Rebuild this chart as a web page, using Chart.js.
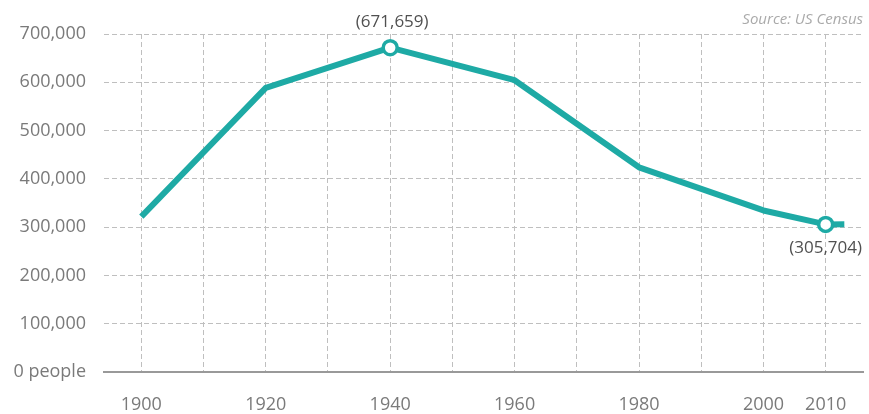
<!DOCTYPE html>
<html>
<head>
<meta charset="utf-8">
<script src="https://cdn.jsdelivr.net/npm/chart.js@4.4.1/dist/chart.umd.min.js"></script>
<style>
  html, body { margin: 0; padding: 0; background: #fff; }
  #wrap { width: 869px; height: 414px; }
</style>
</head>
<body>
<div id="wrap"><canvas id="popChart" width="869" height="414"></canvas></div>
<script>
// census years and population
const years = [1900, 1920, 1940, 1960, 1980, 2000, 2010, 2013];
const population = [321616, 588343, 671659, 604332, 423938, 334563, 305704, 306000];
// points that get a marker and a value label
const markedYears = [1940, 2010];
const gridYears = [1900, 1910, 1920, 1930, 1940, 1950, 1960, 1970, 1980, 1990, 2000, 2010];
const labelYears = [1900, 1920, 1940, 1960, 1980, 2000, 2010];
const yTicks = [0, 100000, 200000, 300000, 400000, 500000, 600000, 700000];

const teal = '#1eaaa5';
const fontFamily = '"Open Sans", sans-serif';

const fmt = v => v.toLocaleString('en-US');

// value labels + source note
const annotations = {
    id: 'annotations',
    afterDatasetsDraw(chart) {
        const ctx = chart.ctx;
        const xs = chart.scales.x, ys = chart.scales.y;
        ctx.save();
        ctx.font = '17px ' + fontFamily;
        ctx.fillStyle = '#505050';
        ctx.textAlign = 'center';
        ctx.textBaseline = 'middle';
        markedYears.forEach((yr, k) => {
            const i = years.indexOf(yr);
            const px = xs.getPixelForValue(yr);
            const py = ys.getPixelForValue(population[i]);
            const dy = k === 0 ? -26 : 24;
            ctx.fillText('(' + fmt(population[i]) + ')', px + (k === 0 ? 2 : 0), py + dy);
        });
        ctx.font = 'italic 15px ' + fontFamily;
        ctx.fillStyle = '#aaa';
        ctx.textAlign = 'right';
        ctx.fillText('Source: US Census', 863, 20);
        ctx.restore();
    }
};

new Chart(document.getElementById('popChart'), {
    type: 'line',
    data: {
        datasets: [{
            data: years.map((y, i) => ({ x: y, y: population[i] })),
            borderColor: teal,
            borderWidth: 6,
            borderJoinStyle: 'round',
            tension: 0,
            pointRadius: c => markedYears.includes(years[c.dataIndex]) ? 7 : 0,
            pointBackgroundColor: '#fff',
            pointBorderColor: teal,
            pointBorderWidth: 3.5
        }]
    },
    options: {
        responsive: false,
        animation: false,
        layout: { padding: { top: 34, right: 6, left: 0, bottom: 0 } },
        plugins: { legend: { display: false }, tooltip: { enabled: false } },
        scales: {
            x: {
                type: 'linear',
                min: 1894,
                max: 2016,
                afterBuildTicks: s => { s.ticks = gridYears.map(v => ({ value: v })); },
                afterFit: s => { s.height = 42; },
                grid: { color: '#bfbfbf', lineWidth: 1, drawTicks: false },
                border: { display: true, color: '#999', width: 2, dash: [5, 3] },
                ticks: {
                    autoSkip: false,
                    maxRotation: 0,
                    padding: 22,
                    color: '#7a7a7a',
                    font: { family: fontFamily, size: 18 },
                    callback: v => labelYears.includes(v) ? String(v) : ''
                }
            },
            y: {
                min: 0,
                max: 700000,
                afterBuildTicks: s => { s.ticks = yTicks.map(v => ({ value: v })); },
                afterFit: s => { s.width = 104; },
                grid: { color: c => c.tick.value === 0 ? 'rgba(0,0,0,0)' : '#bfbfbf', lineWidth: 1, drawTicks: false },
                border: { display: false, dash: [5, 3] },
                ticks: {
                    padding: 18,
                    color: '#7a7a7a',
                    font: { family: fontFamily, size: 18 },
                    callback: v => v === 0 ? '0 people' : fmt(v)
                }
            }
        }
    },
    plugins: [annotations]
});
</script>
</body>
</html>
